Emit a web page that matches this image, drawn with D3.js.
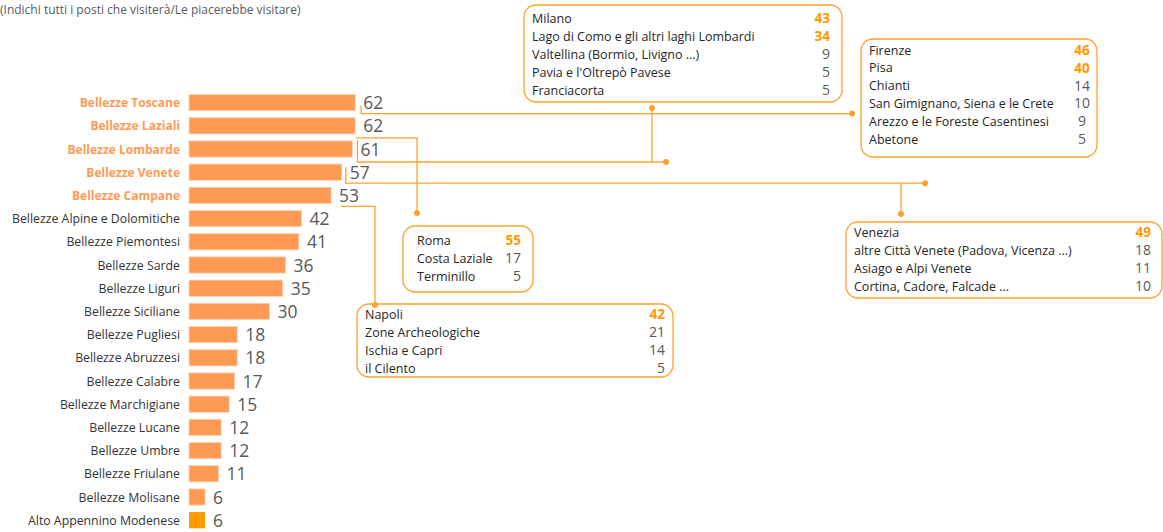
<!DOCTYPE html>
<html>
<head>
<meta charset="utf-8">
<script src="https://cdn.jsdelivr.net/npm/d3@7"></script>
<style>
  body { margin: 0; background: #fff; }
  svg { display: block; font-family: "Open Sans", "Noto Sans", sans-serif; }
</style>
</head>
<body>
<svg width="1163" height="532"></svg>
<script>
// regions, share of respondents (%)
var categories = [
  "Bellezze Toscane", "Bellezze Laziali", "Bellezze Lombarde", "Bellezze Venete",
  "Bellezze Campane", "Bellezze Alpine e Dolomitiche", "Bellezze Piemontesi",
  "Bellezze Sarde", "Bellezze Liguri", "Bellezze Siciliane", "Bellezze Pugliesi",
  "Bellezze Abruzzesi", "Bellezze Calabre", "Bellezze Marchigiane", "Bellezze Lucane",
  "Bellezze Umbre", "Bellezze Friulane", "Bellezze Molisane", "Alto Appennino Modenese"
];
var values = [62, 62, 61, 57, 53, 42, 41, 36, 35, 30, 18, 18, 17, 15, 12, 12, 11, 6, 6];
var highlighted = ["Bellezze Toscane", "Bellezze Laziali", "Bellezze Lombarde", "Bellezze Venete", "Bellezze Campane"];

// detail boxes
var lombardiaLabels = ["Milano", "Lago di Como e gli altri laghi Lombardi", "Valtellina (Bormio, Livigno ...)", "Pavia e l'Oltrepò Pavese", "Franciacorta"];
var lombardiaValues = [43, 34, 9, 5, 5];
var toscanaLabels = ["Firenze", "Pisa", "Chianti", "San Gimignano, Siena e le Crete", "Arezzo e le Foreste Casentinesi", "Abetone"];
var toscanaValues = [46, 40, 14, 10, 9, 5];
var lazioLabels = ["Roma", "Costa Laziale", "Terminillo"];
var lazioValues = [55, 17, 5];
var venetoLabels = ["Venezia", "altre Città Venete (Padova, Vicenza ...)", "Asiago e Alpi Venete", "Cortina, Cadore, Falcade ..."];
var venetoValues = [49, 18, 11, 10];
var campaniaLabels = ["Napoli", "Zone Archeologiche", "Ischia e Capri", "il Cilento"];
var campaniaValues = [42, 21, 14, 5];

var svg = d3.select("svg");
var orange = "#ffa22e";

svg.append("text")
  .attr("x", 0).attr("y", 14)
  .attr("font-size", 12).attr("fill", "#595959")
  .text("(Indichi tutti i posti che visiterà/Le piacerebbe visitare)");

var x = d3.scaleLinear().domain([0, 100]).range([189, 457]);
var y = d3.scaleBand().domain(categories).range([91, 91 + 19 * 23.2]).paddingInner(0.3).paddingOuter(0.15);
var yc = function(c) { return y(c) + y.bandwidth() / 2; };

var rows = categories.map(function(c, i) { return {cat: c, val: values[i]}; });

var g = svg.append("g");
g.selectAll("rect.bar")
  .data(rows)
  .enter()
  .append("rect")
    .attr("class", "bar")
    .attr("x", x(0))
    .attr("y", d => y(d.cat))
    .attr("width", d => x(d.val) - x(0))
    .attr("height", y.bandwidth())
    .attr("fill", d => d.cat == "Alto Appennino Modenese" ? "#ff9a00" : "#ff9a55")
    .attr("stroke", d => d.cat == "Alto Appennino Modenese" ? "none" : "#ffd2b3")
    .attr("stroke-width", 0.8);

g.selectAll("text.cat")
  .data(rows)
  .enter()
  .append("text")
    .attr("class", "cat")
    .attr("x", 180)
    .attr("y", d => yc(d.cat) + 4.5)
    .attr("text-anchor", "end")
    .attr("font-size", d => highlighted.includes(d.cat) ? 12 : 12.3)
    .attr("font-weight", d => highlighted.includes(d.cat) ? "bold" : "normal")
    .attr("fill", d => highlighted.includes(d.cat) ? "#ff9a55" : "#333")
    .text(d => d.cat);

g.selectAll("text.val")
  .data(rows)
  .enter()
  .append("text")
    .attr("class", "val")
    .attr("x", d => x(d.val) + 8)
    .attr("y", d => yc(d.cat) + 6.5)
    .attr("font-size", 17.5)
    .attr("fill", "#595959")
    .text(d => d.val);

// boxes (top: how many leading rows are bold orange)
var boxes = [
  {labels: lombardiaLabels, vals: lombardiaValues, top: 2, x: 524, y: 5, w: 318, h: 97, r0: 18, step: 18, vx: 830, anchor: "end"},
  {labels: toscanaLabels, vals: toscanaValues, top: 2, x: 861, y: 39, w: 236, h: 118, r0: 50, step: 17.8, vx: 1082, anchor: "middle"},
  {labels: lazioLabels, vals: lazioValues, top: 1, x: 403, y: 226, w: 130, h: 66, r0: 240, step: 18, vx: 521, anchor: "end", tx: 417},
  {labels: venetoLabels, vals: venetoValues, top: 1, x: 846, y: 222, w: 316, h: 76, r0: 232, step: 18, vx: 1151, anchor: "end"},
  {labels: campaniaLabels, vals: campaniaValues, top: 1, x: 357, y: 304, w: 316, h: 73, r0: 314, step: 18, vx: 665, anchor: "end"}
];

boxes.forEach(function(b) {
  var bg = svg.append("g");
  bg.append("rect")
    .attr("x", b.x).attr("y", b.y).attr("width", b.w).attr("height", b.h)
    .attr("rx", 12).attr("ry", 12)
    .attr("fill", "#fff").attr("stroke", orange).attr("stroke-width", 1.3);
  bg.selectAll("text.lab")
    .data(b.labels)
    .enter()
    .append("text")
      .attr("x", b.tx || b.x + 8)
      .attr("y", (d, i) => b.r0 + i * b.step + 4.5)
      .attr("font-size", 12.5)
      .attr("fill", "#262626")
      .text(d => d);
  bg.selectAll("text.v")
    .data(b.vals)
    .enter()
    .append("text")
      .attr("x", b.vx)
      .attr("y", (d, i) => b.r0 + i * b.step + 5)
      .attr("text-anchor", b.anchor)
      .attr("font-size", (d, i) => i < b.top ? 13.5 : 14)
      .attr("font-weight", (d, i) => i < b.top ? "bold" : "normal")
      .attr("fill", (d, i) => i < b.top ? "#ff9900" : "#595959")
      .text(d => d);
});

// connectors
var yT = yc("Bellezze Toscane"), yL = yc("Bellezze Laziali"), yLo = yc("Bellezze Lombarde"),
    yV = yc("Bellezze Venete"), yC = yc("Bellezze Campane");
var links = [
  {path: [[x(62) + 6, yT + 3], [x(62) + 6, yT + 11], [852, yT + 11]], dots: [[852, yT + 11]]},
  {path: [[x(62) + 1, yL + 12], [417, yL + 12], [417, 213]], dots: [[417, 213]]},
  {path: [[x(61) + 5, yLo - 9], [x(61) + 5, yLo + 13], [666, yLo + 13]], dots: [[666, yLo + 13]]},
  {path: [[652, 108], [652, yLo + 13]], dots: [[652, 108]]},
  {path: [[x(57) + 4, yV - 5], [x(57) + 4, yV + 11], [925, yV + 11]], dots: [[925, yV + 11]]},
  {path: [[901, yV + 11], [901, 214]], dots: [[901, 214]]},
  {path: [[x(53) + 10, yC + 11], [375, yC + 11], [375, 305]], dots: [[375, 305]]}
];
var line = d3.line();
links.forEach(function(l) {
  svg.append("path")
    .attr("d", line(l.path))
    .attr("fill", "none").attr("stroke", orange).attr("stroke-width", 1.3);
  l.dots.forEach(function(p) {
    svg.append("circle").attr("cx", p[0]).attr("cy", p[1]).attr("r", 3).attr("fill", orange);
  });
});
</script>
</body>
</html>
